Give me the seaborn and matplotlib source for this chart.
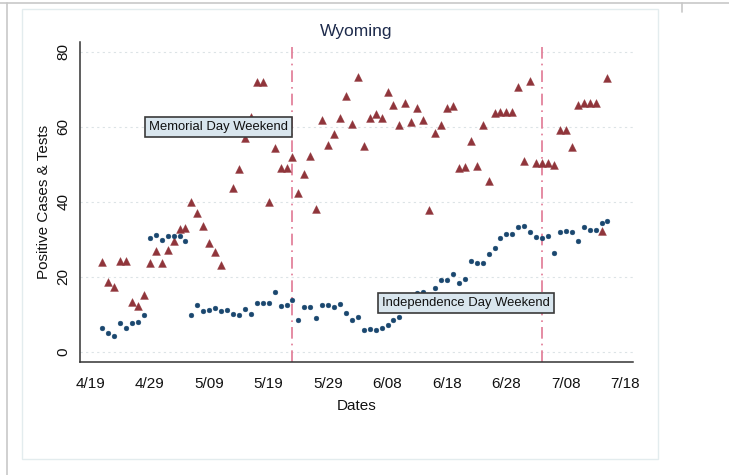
import numpy as np
import pandas as pd
import matplotlib
matplotlib.use('Agg')
import matplotlib.pyplot as plt
import seaborn as sns
from matplotlib.patches import Rectangle
from matplotlib.lines import Line2D

# daily values from 4/21 to 7/15 (nan = no visible point)
dates = pd.date_range('2020-04-21', '2020-07-15', freq='D')
cases = [6.4, 5.1, 4.3, 7.6, 6.2, 7.6, 8.0, 9.9,
         30.3, 31.0, 29.9, 30.8, 30.8, 30.8, 29.5,
         9.7, 12.4, 10.8, 11.1, 11.6, 10.8, 11.2, 10.0, 9.8, 11.4, 10.1, 13.1, 13.1, 12.9, 15.8, 12.2, 12.4, 13.8,
         8.4, 11.9, 11.9, 9.1, 12.4, 12.4, 12.0, 12.7, 10.2, 8.4, 9.2, 5.8, 6.0, 5.8, 6.2, 7.1, 8.4, 9.2,
         np.nan, np.nan, 15.7, 16.0, np.nan, 16.9, 19.1, 19.1, 20.8, 18.4, 19.4, 24.3, 23.6, 23.6, 26.0, 27.7,
         30.4, 31.4, 31.4, 33.2, 33.5, 32.0, 30.5, 30.4,
         30.9, 26.2, 31.9, 32.2, 31.9, 29.6, 33.2, 32.4, 32.4, 34.2, 34.9]
tests = [23.8, 18.5, 17.3, 24.1, 24.1, 13.3, 12.1, 15.1,
         23.7, 26.9, 23.7, 27.1, 29.6, 32.8, 33.0,
         39.9, 37.1, 33.6, 29.0, 26.5, 23.1, np.nan, 43.7, 48.6, 57.1, 62.5, 71.8, 71.8, 39.9, 54.2, 48.9, 48.9, 52.0,
         42.2, 47.3, 52.2, 38.0, 61.8, 55.0, 58.0, 62.4, 68.2, 60.7, 73.3, 54.8, 62.2, 63.4, 62.4, 69.2, 65.8, 60.4,
         66.2, 61.3, 65.1, 61.8, 37.8, 58.4, 60.4, 64.9, 65.5, 48.9, 49.2, 56.3, 49.6, 60.4, 45.6, 63.6,
         63.8, 63.8, 63.8, 70.7, 50.9, 72.3, 50.2, 50.2,
         50.2, 49.7, 59.1, 59.1, 54.5, 65.8, 66.2, 66.2, 66.2, 32.2, 73.1]

tick_dates = ['2020-04-19', '2020-04-29', '2020-05-09', '2020-05-19', '2020-05-29',
              '2020-06-08', '2020-06-18', '2020-06-28', '2020-07-08', '2020-07-18']
tick_labels = ['4/19', '4/29', '5/09', '5/19', '5/29', '6/08', '6/18', '6/28', '7/08', '7/18']
y_ticks = [0, 20, 40, 60, 80]

event_dates = ['2020-05-23', '2020-07-04']
event_labels = ['Memorial Day Weekend', 'Independence Day Weekend']
label_dates = ['2020-05-23', '2020-07-06']
label_values = [60, 13]

df = pd.DataFrame({'date': dates, 'cases': cases, 'tests': tests})

sns.set_style('white')
plt.rcParams['font.family'] = ['Liberation Sans', 'DejaVu Sans']

W, H = 729, 475
fig = plt.figure(figsize=(W / 100, H / 100), dpi=100)

def px(x, y):
    return x / W, 1 - y / H

# screenshot frame around the stata graph
fig.add_artist(Rectangle(px(22, 459), 636 / W, 450 / H, transform=fig.transFigure,
                         facecolor='none', edgecolor='#e3ecee', lw=1))
fig.add_artist(Line2D([0, 1], [1 - 3 / H] * 2, transform=fig.transFigure, color='#c8c8c8', lw=1.2))
fig.add_artist(Line2D([7 / W] * 2, [0, 1 - 3 / H], transform=fig.transFigure, color='#c8c8c8', lw=1.2))
fig.add_artist(Line2D([682 / W] * 2, [1 - 3 / H, 1 - 12 / H], transform=fig.transFigure, color='#c8c8c8', lw=1.2))

ax = fig.add_axes([80 / W, 1 - 362 / H, 553 / W, 320 / H])

sns.scatterplot(data=df, x='date', y='tests', marker='^', s=32, color='#90353b',
                edgecolor='#90353b', linewidth=0.3, ax=ax, zorder=3)
sns.scatterplot(data=df, x='date', y='cases', marker='o', s=12, color='#1a476f',
                edgecolor='#1a476f', linewidth=0.3, ax=ax, zorder=3)

for d in event_dates:
    ax.axvline(pd.Timestamp(d), color='#e07893', lw=1.2, linestyle=(0, (7, 3, 1, 3)), zorder=2)

for txt, d, v in zip(event_labels, label_dates, label_values):
    ax.annotate(txt, xy=(pd.Timestamp(d), v), xytext=(-3, 0), textcoords='offset points',
                ha='right', va='center', fontsize=9.4, color='#111111', zorder=5,
                bbox=dict(boxstyle='square,pad=0.3', facecolor='#d9e6ee', edgecolor='#3a3a3a', lw=1.2))

base = pd.Timestamp('2020-04-19')
ax.set_xlim(base + pd.Timedelta(days=-1.75), base + pd.Timedelta(days=91.3))
ax.set_ylim(-2.75, 82.6)
ax.set_xticks(pd.to_datetime(tick_dates))
ax.set_xticklabels(tick_labels)
ax.set_yticks(y_ticks)
ax.set_yticklabels([str(t) for t in y_ticks])

ax.grid(axis='y', color='#dce3e6', linestyle=(0, (2, 3)), linewidth=0.8)
ax.grid(axis='x', visible=False)
sns.despine(ax=ax)
for side in ['left', 'bottom']:
    ax.spines[side].set_color('#333333')
    ax.spines[side].set_linewidth(1.1)

ax.tick_params(axis='both', direction='out', length=4, width=1, color='#333333',
               labelsize=11, labelcolor='#111111')
ax.tick_params(axis='x', pad=6.5)
ax.tick_params(axis='y', labelrotation=90, pad=3)
for lbl in ax.get_yticklabels():
    lbl.set_va('center')

ax.set_xlabel('Dates', fontsize=11, color='#111111', labelpad=6)
ax.set_ylabel('Positive Cases & Tests', fontsize=11, color='#111111', labelpad=4)
ax.set_title('Wyoming', fontsize=12.5, color='#1e2b4c', pad=4.5)

fig.savefig('out.png', dpi=100)
